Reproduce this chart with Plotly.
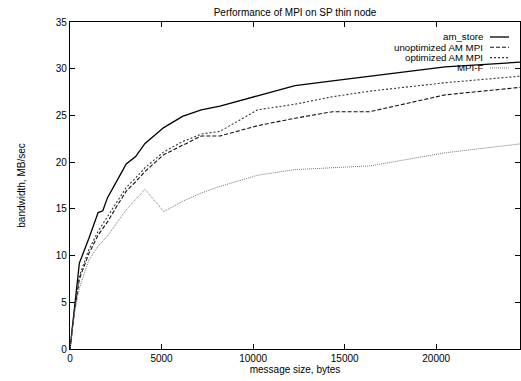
import plotly.graph_objects as go

# message sizes (bytes)
sizes = [0, 256, 512, 1024, 1536, 1792, 2048, 2560, 3072, 3584, 4096, 5120,
         6144, 7168, 8192, 10240, 12288, 14336, 16384, 20480, 24576]

am_store = [0, 5.0, 9.2, 11.8, 14.6, 14.8, 16.2, 18.0, 19.8, 20.6, 22.0, 23.7,
            24.9, 25.6, 26.0, 27.1, 28.2, 28.7, 29.2, 30.2, 30.7]
unopt_am_mpi = [0, 4.2, 7.5, 10.2, 12.2, 12.9, 13.6, 15.3, 16.9, 17.9, 19.0, 20.8,
                21.8, 22.8, 22.8, 23.9, 24.7, 25.4, 25.4, 27.2, 28.0]
opt_am_mpi = [0, 4.4, 7.8, 10.6, 12.6, 13.4, 14.1, 15.8, 17.3, 18.3, 19.4, 21.1,
              22.2, 23.0, 23.3, 25.6, 26.2, 27.0, 27.6, 28.5, 29.2]
mpi_f = [0, 4.0, 6.5, 9.5, 11.0, 11.6, 12.1, 13.5, 14.9, 16.0, 17.1, 14.7,
         15.8, 16.7, 17.4, 18.6, 19.2, 19.4, 19.6, 21.0, 21.95]

series_names = ["am_store", "unoptimized AM MPI", "optimized AM MPI", "MPI-F"]
series_values = [am_store, unopt_am_mpi, opt_am_mpi, mpi_f]
styles = [
    dict(color="#000000", width=1.3, dash="solid"),
    dict(color="#111111", width=1.1, dash="4px,2px"),
    dict(color="#333333", width=1.1, dash="2px,2px"),
    dict(color="#777777", width=1.0, dash="1px,1px"),
]

x_ticks = [0, 5000, 10000, 15000, 20000]
y_ticks = [0, 5, 10, 15, 20, 25, 30, 35]

FONT = "Liberation Sans, Arial, sans-serif"

fig = go.Figure()
for name, vals, st in zip(series_names, series_values, styles):
    fig.add_trace(go.Scatter(x=sizes, y=vals, mode="lines", name=name,
                             line=st, showlegend=False))

# gnuplot-style legend: right-aligned text with sample line to its right
L, T, PW, PH = 70, 22, 450, 327
for i, (name, st) in enumerate(zip(series_names, styles)):
    py = 37 + i * 10.3
    yp = (349 - py) / PH
    fig.add_annotation(x=(484 - L) / PW, y=yp, xref="paper", yref="paper",
                       text=name, showarrow=False, xanchor="right", yanchor="middle",
                       borderpad=0,
                       font=dict(family=FONT, size=9.7, color="#000"))
    fig.add_shape(type="line", xref="paper", yref="paper",
                  x0=(490 - L) / PW, x1=(509 - L) / PW, y0=yp, y1=yp,
                  line=st)

fig.update_layout(
    width=521, height=381,
    margin=dict(l=L, r=1, t=T, b=32),
    paper_bgcolor="white", plot_bgcolor="white",
    font=dict(family=FONT, size=10, color="#000"),
    title=dict(text="Performance of MPI on SP thin node", x=(295) / 521, xanchor="center",
               y=1 - 12 / 381, yanchor="middle", font=dict(size=10)),
)
fig.update_xaxes(range=[0, 24576], tickvals=x_ticks, ticktext=[str(v) for v in x_ticks],
                 ticks="inside", ticklen=5, tickcolor="#000", mirror="ticks",
                 showline=True, linecolor="#000", linewidth=1.2, showgrid=False,
                 zeroline=False,
                 title=dict(text="message size, bytes", standoff=0, font=dict(size=10)),
                 tickfont=dict(size=10))
fig.update_yaxes(range=[0, 35], tickvals=y_ticks, ticks="inside", ticklen=5,
                 tickcolor="#000", mirror="ticks", showline=True, linecolor="#000",
                 linewidth=1.2, showgrid=False, zeroline=False,
                 title=dict(text="bandwidth, MB/sec", standoff=28, font=dict(size=10)),
                 tickfont=dict(size=10))

fig.write_html("out.html")
